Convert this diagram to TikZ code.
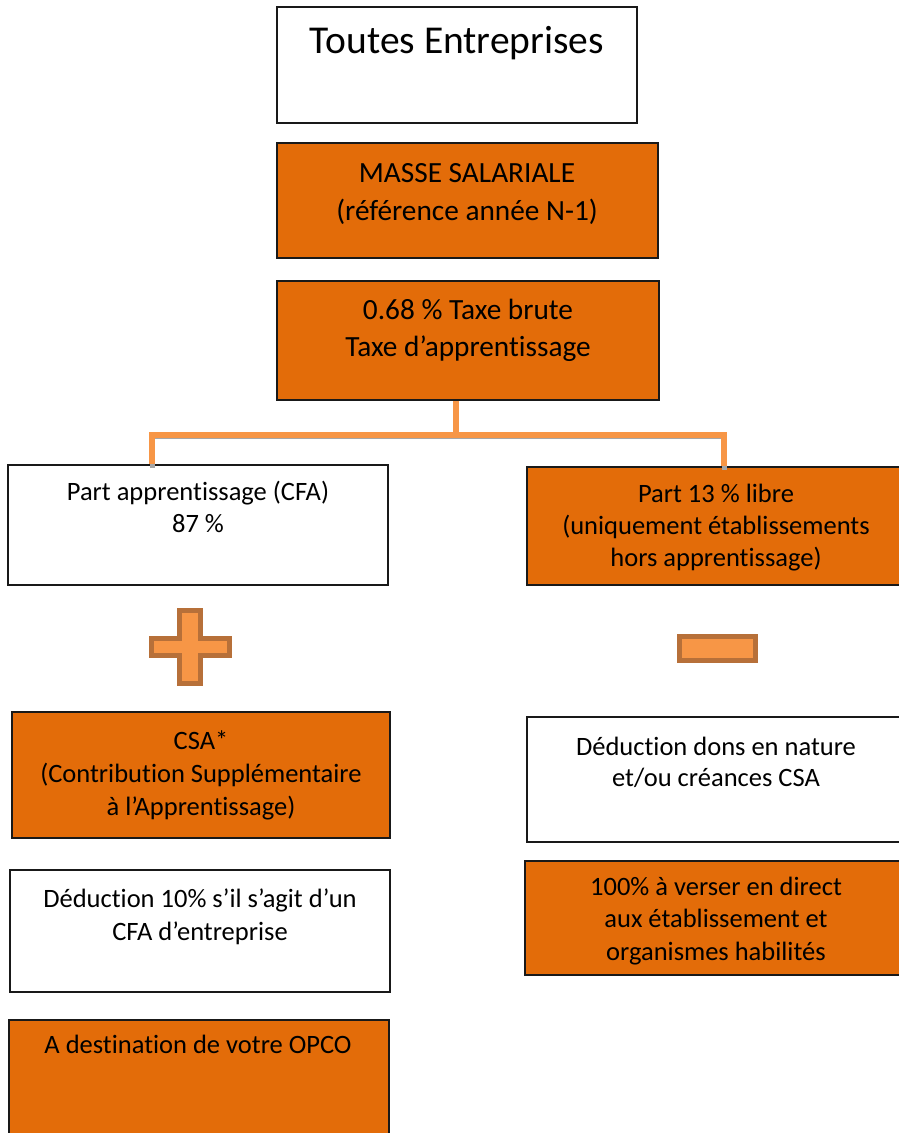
\documentclass[tikz,border=0pt]{standalone}
\usepackage{fontspec}
\setmainfont{Carlito}[Ligatures=NoCommon]
\definecolor{org}{HTML}{E36C09}
\definecolor{lorg}{HTML}{F79646}
\definecolor{dorg}{HTML}{B77039}
\definecolor{shd}{HTML}{A6A6A6}
\tikzset{
  box/.style={draw=black!90, line width=1.6pt, rectangle, inner sep=0pt},
  wbox/.style={box, fill=white},
  obox/.style={box, fill=org},
  tl/.style={anchor=base, inner sep=0pt, font=\fontsize{26.5}{32}\selectfont},
  tm/.style={anchor=base, inner sep=0pt, font=\fontsize{29.3}{35}\selectfont},
  tb/.style={anchor=base, inner sep=0pt, font=\fontsize{39.5}{47}\selectfont},
  conn/.style={draw=lorg, line width=5.5pt},
  connshd/.style={draw=shd, line width=5pt},
  sign/.style={draw=dorg, fill=lorg, line width=5pt, line join=miter}
}
\begin{document}
\begin{tikzpicture}[x=1pt,y=-1pt]
\useasboundingbox (0,0) rectangle (898,1133);
% boxes
\node[wbox, minimum width=360pt, minimum height=116pt] (top) at (457,65) {};
\node[obox, minimum width=381pt, minimum height=115pt] (masse) at (467.5,200.5) {};
\node[obox, minimum width=382pt, minimum height=119pt] (taxe) at (468,340.5) {};
\node[wbox, minimum width=380pt, minimum height=120pt] (cfa) at (198,525) {};
\node[obox, minimum width=375pt, minimum height=118pt] (libre) at (714.5,526) {};
\node[obox, minimum width=378pt, minimum height=126pt] (csa) at (201,775) {};
\node[wbox, minimum width=375pt, minimum height=125pt] (dons) at (714.5,779.5) {};
\node[wbox, minimum width=380pt, minimum height=122pt] (ded) at (200,931) {};
\node[obox, minimum width=377pt, minimum height=114pt] (verser) at (713.5,918) {};
\node[obox, minimum width=380pt, minimum height=120pt] (opco) at (199,1080) {};
% texts
\node[tb] (t1) at (457,53) {Toutes Entreprises};
\node[tm] (t2a) at (467,182) {MASSE SALARIALE};
\node[tm] (t2b) at (467,220) {(référence année N-1)};
\node[tm] (t3a) at (468,319) {0.68 \% Taxe brute};
\node[tm] (t3b) at (468,356) {Taxe d’apprentissage};
\node[tl] (t4a) at (198,500) {Part apprentissage (CFA)};
\node[tl] (t4b) at (198,532) {87 \%};
\node[tl] (t5a) at (716,502) {Part 13 \% libre};
\node[tl] (t5b) at (716,534) {(uniquement établissements};
\node[tl] (t5c) at (716,566) {hors apprentissage)};
\node[tl] (t6a) at (201,749) {CSA*};
\node[tl] (t6b) at (201,782) {(Contribution Supplémentaire};
\node[tl] (t6c) at (201,815) {à l’Apprentissage)};
\node[tl] (t7a) at (716,755) {Déduction dons en nature};
\node[tl] (t7b) at (716,786) {et/ou créances CSA};
\node[tl] (t8a) at (200,907) {Déduction 10\% s’il s’agit d’un};
\node[tl] (t8b) at (200,940) {CFA d’entreprise};
\node[tl] (t9a) at (716,895) {100\% à verser en direct};
\node[tl] (t9b) at (716,927) {aux établissement et};
\node[tl] (t9c) at (716,960) {organismes habilités};
\node[tl] (t10) at (198,1053) {A destination de votre OPCO};
% connectors
\coordinate (jm) at (456,432);
\coordinate (jl) at (152,432);
\coordinate (jr) at (724,432);
\draw[connshd, transform canvas={yshift=-4pt}] (jl |- cfa.north) -- (jl) -- (jr) -- (jr |- libre.north);
\draw[conn] (jm |- taxe.south) -- (jm);
\draw[conn] (jl |- cfa.north) -- ([yshift=-2.75pt]jl.center) -- ([yshift=-2.75pt]jr.center) -- (jr |- libre.north);
% plus sign
\draw[sign] (179.5,610.5) -- (200.5,610.5) -- (200.5,638.5) -- (229.5,638.5) -- (229.5,655.5)
  -- (200.5,655.5) -- (200.5,683.5) -- (179.5,683.5) -- (179.5,655.5) -- (151.5,655.5)
  -- (151.5,638.5) -- (179.5,638.5) -- cycle;
% minus sign
\draw[sign] (679.5,636.5) rectangle (755.5,660.5);
\end{tikzpicture}
\end{document}
